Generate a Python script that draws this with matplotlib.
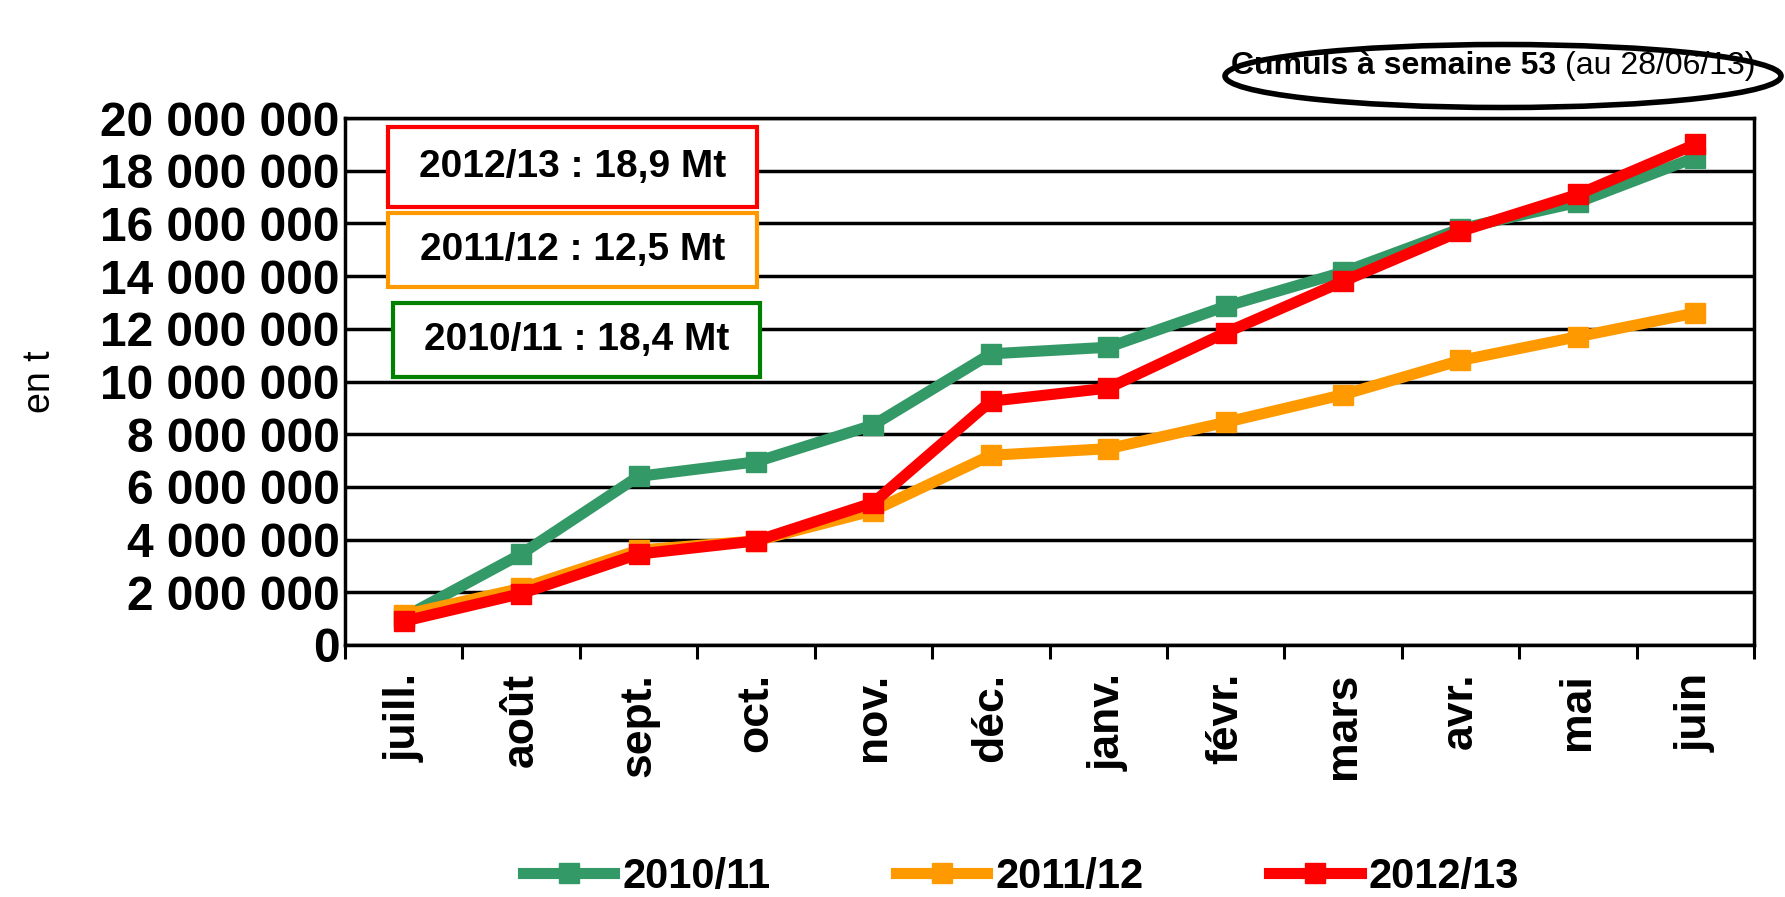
import numpy as np
import matplotlib
matplotlib.use("Agg")
from matplotlib import pyplot as plt
from matplotlib.patches import Rectangle, Ellipse

plt.rcParams['font.family'] = ['Liberation Sans', 'DejaVu Sans']

months = ['juill.', 'août', 'sept.', 'oct.', 'nov.', 'déc.', 'janv.', 'févr.',
          'mars', 'avr.', 'mai', 'juin']
s2010 = [1.05e6, 3.45e6, 6.4e6, 6.95e6, 8.35e6, 11.05e6, 11.3e6, 12.85e6,
         14.15e6, 15.8e6, 16.8e6, 18.5e6]
s2011 = [1.15e6, 2.15e6, 3.6e6, 3.95e6, 5.1e6, 7.2e6, 7.45e6, 8.45e6,
         9.5e6, 10.8e6, 11.7e6, 12.6e6]
s2012 = [0.9e6, 1.95e6, 3.45e6, 3.95e6, 5.4e6, 9.25e6, 9.75e6, 11.85e6,
         13.8e6, 15.7e6, 17.1e6, 19.0e6]
series_names = ['2010/11', '2011/12', '2012/13']
colors = ['#339966', '#FF9900', '#FF0000']
yticks = np.arange(0, 20000001, 2000000)
ylabels = ['{:,}'.format(v).replace(',', ' ') for v in yticks]
box_texts = ['2012/13 : 18,9 Mt', '2011/12 : 12,5 Mt', '2010/11 : 18,4 Mt']
box_colors = ['#FF0000', '#FF9900', '#008000']

fig = plt.figure(figsize=(17.85, 8.97), dpi=100)
ax = fig.add_axes([345 / 1785, 1 - 645 / 897, (1754 - 345) / 1785, (645 - 118) / 897])

x = np.arange(len(months))
for vals, name, c in zip([s2010, s2011, s2012], series_names, colors):
    ax.plot(x, vals, color=c, lw=8, marker='s', ms=14, label=name,
            solid_joinstyle='miter')

ax.set_xlim(-0.5, 11.5)
ax.set_ylim(0, 20000000)
ax.set_yticks(yticks)
ax.set_yticklabels(ylabels, fontsize=34.5, fontweight='bold')
ax.set_xticks(x)
ax.set_xticklabels(months, fontsize=32, fontweight='bold', rotation=90)
ax.set_xticks(np.arange(-0.5, 12, 1), minor=True)
ax.tick_params(axis='x', which='major', length=0, pad=20)
ax.tick_params(axis='x', which='minor', length=10, width=2.2, direction='out')
ax.tick_params(axis='y', length=0, pad=4)
ax.grid(axis='y', color='black', lw=2.5)
ax.set_axisbelow(True)
for sp in ax.spines.values():
    sp.set_linewidth(2.5)
ax.set_ylabel('en t', fontsize=27, labelpad=30)

# boites de texte
boxes = [(388, 127, 757, 207), (388, 213, 757, 287), (393, 303, 760, 377)]
for (x0, y0, x1, y1), t, c in zip(boxes, box_texts, box_colors):
    r = Rectangle((x0 / 1785, 1 - y1 / 897), (x1 - x0) / 1785, (y1 - y0) / 897,
                  transform=fig.transFigure, fill=True, facecolor='white',
                  edgecolor=c, lw=3, zorder=5)
    fig.patches.append(r)
    fig.text((x0 + x1) / 2 / 1785, 1 - (y0 + y1) / 2 / 897, t, ha='center',
             va='center', fontsize=28, fontweight='bold', zorder=6)

# ellipse en haut a droite
el = Ellipse((1503 / 1785, 1 - 76 / 897), 556 / 1785, 63 / 897,
             transform=fig.transFigure, fill=False, edgecolor='black', lw=4)
fig.patches.append(el)
t1 = fig.text(1231 / 1785, 1 - 66 / 897, 'Cumuls à semaine 53 ', ha='left',
              va='center', fontsize=23, fontweight='bold')
fig.canvas.draw()
bb = t1.get_window_extent()
fig.text(bb.x1 / 1785, 1 - 66 / 897, '(au 28/06/13)', ha='left', va='center',
         fontsize=23)

ax.legend(loc='center', bbox_to_anchor=(0.572, 1 - 877 / 897),
          bbox_transform=fig.transFigure, ncol=3, frameon=False,
          prop={'size': 30, 'weight': 'bold'}, handlelength=2.2,
          handletextpad=0.2, columnspacing=3.0)

fig.savefig('out.png', dpi=100)
